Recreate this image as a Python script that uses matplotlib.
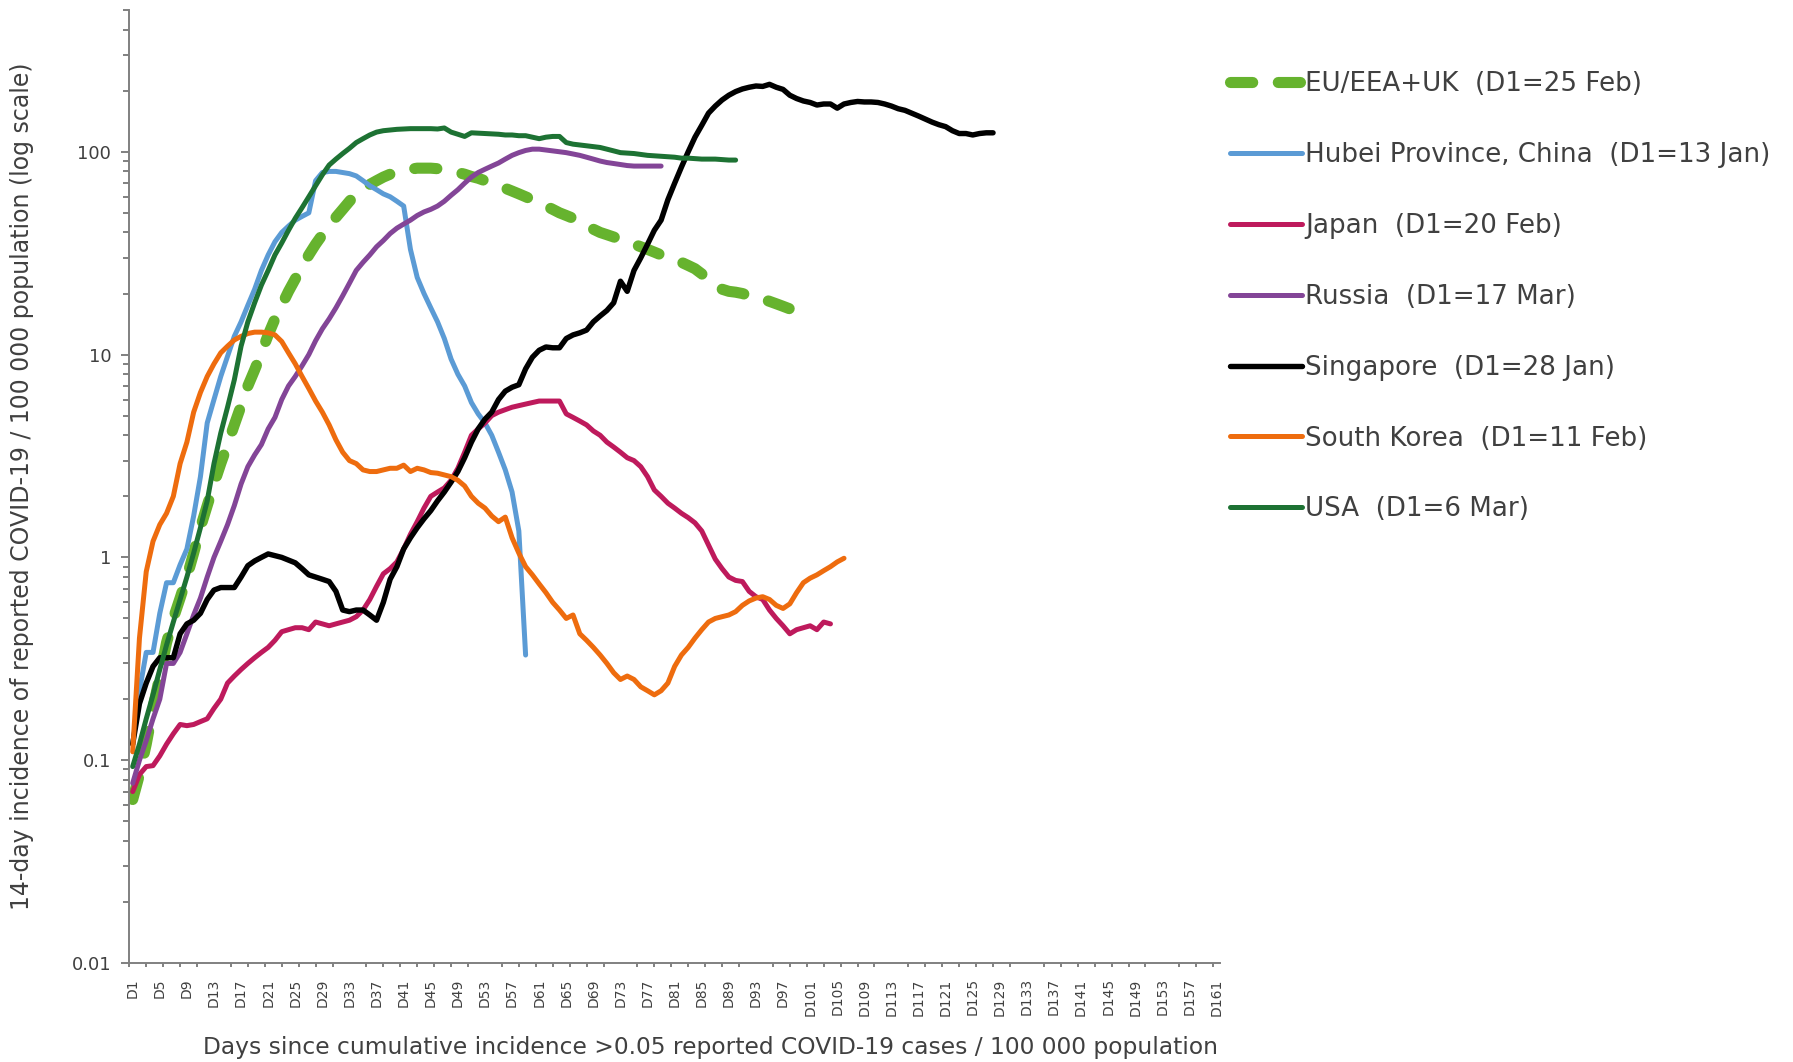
import numpy as np
import matplotlib
matplotlib.use("Agg")
import matplotlib.pyplot as plt
from matplotlib.ticker import FixedLocator, LogLocator, NullFormatter, FuncFormatter

plt.rcParams["font.family"] = ["DejaVu Sans"]

W, H, DPI = 1793, 1062, 100
TXT = "#404040"
AXC = "#808080"

# 14-day incidence per 100 000, one value per day starting at D1
eu_vals = [0.064, 0.085, 0.12, 0.18, 0.26, 0.38, 0.5, 0.63, 0.8, 1.05,
           1.4, 1.8, 2.3, 2.9, 3.6, 4.5, 5.6, 7.0, 8.4, 10.2,
           12.5, 15, 17.5, 20.5, 23.6, 27, 31, 35, 39, 43,
           47.5, 52, 57, 62, 66, 69, 72, 75, 77.5, 79.5,
           81, 82, 83, 83, 83, 82.5, 82, 80.5, 79, 77.5,
           75.5, 74, 72, 70, 68, 66, 64, 62, 60, 58,
           56, 54, 52, 50, 48.5, 47, 45, 43, 41.5, 40,
           39, 38, 37, 36, 35, 34, 33, 32, 31, 30,
           29, 28.5, 27.5, 26.5, 25, 23, 22, 21, 20.5, 20.3,
           20, 19.5, 19, 18.8, 18.3, 17.8, 17.3, 16.8, 16.3, 17]
hubei_vals = [0.12, 0.22, 0.34, 0.34, 0.53, 0.75, 0.75, 0.92, 1.1, 1.6,
              2.5, 4.6, 6.0, 7.8, 9.8, 12.3, 14.5, 17.5, 21, 26,
              31, 36, 40, 43, 46, 48, 50, 72, 79, 80,
              80, 79, 78, 76, 72, 68, 65, 62, 60, 57,
              54, 33, 24, 20, 17, 14.5, 12, 9.5, 8, 7,
              5.8, 5.1, 4.6, 4.0, 3.3, 2.7, 2.1, 1.35, 0.33]
japan_vals = [0.07, 0.085, 0.093, 0.094, 0.105, 0.12, 0.135, 0.15, 0.148, 0.15,
              0.155, 0.16, 0.18, 0.2, 0.24, 0.26, 0.28, 0.3, 0.32, 0.34,
              0.36, 0.39, 0.43, 0.44, 0.45, 0.45, 0.44, 0.48, 0.47, 0.46,
              0.47, 0.48, 0.49, 0.51, 0.55, 0.62, 0.72, 0.83, 0.88, 0.95,
              1.1, 1.3, 1.5, 1.75, 2.0, 2.1, 2.2, 2.4, 2.75, 3.3,
              4.0, 4.3, 4.6, 5.0, 5.2, 5.35, 5.5, 5.6, 5.7, 5.8,
              5.9, 5.9, 5.9, 5.9, 5.1, 4.9, 4.7, 4.5, 4.2, 4.0,
              3.7, 3.5, 3.3, 3.1, 3.0, 2.8, 2.5, 2.15, 2.0, 1.85,
              1.75, 1.65, 1.57, 1.48, 1.35, 1.15, 0.98, 0.88, 0.8, 0.77,
              0.76, 0.68, 0.64, 0.62, 0.55, 0.5, 0.46, 0.42, 0.44, 0.45,
              0.46, 0.44, 0.48, 0.47]
russia_vals = [0.077, 0.1, 0.125, 0.16, 0.2, 0.3, 0.3, 0.34, 0.42, 0.52,
               0.63, 0.8, 1.0, 1.2, 1.45, 1.8, 2.3, 2.8, 3.2, 3.6,
               4.3, 4.9, 6.0, 7.0, 7.8, 8.8, 10, 11.7, 13.4, 15,
               17, 19.5, 22.5, 26, 28.5, 31, 34, 36.5, 39.5, 42,
               44, 46, 48.5, 50.5, 52, 54, 57, 61, 65, 70,
               75, 79, 82, 85, 88, 92, 96, 99, 101.5, 103,
               103, 102, 101, 100, 99, 97.5, 96, 94, 92, 90,
               88.5, 87.5, 86.5, 85.5, 85, 85, 85, 85, 85]
singapore_vals = [0.12, 0.19, 0.24, 0.29, 0.32, 0.32, 0.32, 0.42, 0.47, 0.49,
                  0.53, 0.62, 0.69, 0.71, 0.71, 0.71, 0.8, 0.91, 0.96, 1.0,
                  1.04, 1.02, 1.0, 0.97, 0.94, 0.88, 0.82, 0.8, 0.78, 0.76,
                  0.68, 0.55, 0.54, 0.55, 0.55, 0.52, 0.49, 0.6, 0.78, 0.9,
                  1.1, 1.25, 1.4, 1.55, 1.7, 1.9, 2.1, 2.35, 2.65, 3.1,
                  3.7, 4.3, 4.8, 5.2, 6.0, 6.6, 6.9, 7.1, 8.5, 9.7,
                  10.5, 10.9, 10.8, 10.8, 12, 12.5, 12.8, 13.2, 14.5, 15.5,
                  16.5, 18, 23, 20.5, 26, 30, 35, 41, 46, 58,
                  70, 84, 100, 118, 135, 155, 168, 180, 190, 198,
                  204, 208, 211, 210, 215, 208, 203, 190, 183, 178,
                  175, 170, 172, 172, 164, 172, 175, 177, 176, 176,
                  175, 172, 168, 163, 160, 155, 150, 145, 140, 136,
                  133, 127, 123, 123, 121, 123, 124, 124]
korea_vals = [0.11, 0.4, 0.85, 1.2, 1.45, 1.65, 2.0, 2.9, 3.7, 5.2,
              6.5, 7.8, 9.0, 10.2, 11.0, 11.8, 12.3, 12.7, 12.9, 12.9,
              12.8, 12.5, 11.6, 10.2, 9.0, 7.8, 6.8, 5.9, 5.2, 4.5,
              3.8, 3.3, 3.0, 2.9, 2.7, 2.65, 2.65, 2.7, 2.75, 2.75,
              2.85, 2.65, 2.75, 2.7, 2.62, 2.6, 2.55, 2.5, 2.4, 2.25,
              2.0, 1.85, 1.75, 1.6, 1.5, 1.58, 1.25, 1.05, 0.9, 0.82,
              0.74, 0.67, 0.6, 0.55, 0.5, 0.52, 0.42, 0.39, 0.36, 0.33,
              0.3, 0.27, 0.25, 0.26, 0.25, 0.23, 0.22, 0.21, 0.22, 0.24,
              0.29, 0.33, 0.36, 0.4, 0.44, 0.48, 0.5, 0.51, 0.52, 0.54,
              0.58, 0.61, 0.63, 0.64, 0.62, 0.58, 0.56, 0.59, 0.67, 0.75,
              0.79, 0.82, 0.86, 0.9, 0.95, 0.99]
usa_vals = [0.093, 0.12, 0.16, 0.21, 0.28, 0.37, 0.48, 0.62, 0.8, 1.05,
            1.4, 1.9, 2.9, 4.1, 5.5, 7.5, 11, 14.5, 18, 22,
            26, 31, 35.5, 41, 47, 53, 60, 68, 77, 86,
            92, 98, 104, 111, 116, 121, 125, 127, 128, 129,
            129.5, 130, 130, 130, 130, 129.5, 131, 125, 122, 119,
            124, 123.5, 123, 122.5, 122, 121, 121, 120, 120, 118,
            116, 118, 119, 119, 111, 109, 108, 107, 106, 105,
            103, 101, 99, 98.5, 98, 97, 96, 95.5, 95, 94.5,
            94, 93, 93, 92.5, 92, 92, 92, 91.5, 91, 91]

series = [
    ("EU/EEA+UK  (D1=25 Feb)", eu_vals, "#66B32E"),
    ("Hubei Province, China  (D1=13 Jan)", hubei_vals, "#5B9BD5"),
    ("Japan  (D1=20 Feb)", japan_vals, "#BE1A5C"),
    ("Russia  (D1=17 Mar)", russia_vals, "#834597"),
    ("Singapore  (D1=28 Jan)", singapore_vals, "#000000"),
    ("South Korea  (D1=11 Feb)", korea_vals, "#EE6C0E"),
    ("USA  (D1=6 Mar)", usa_vals, "#1D7233"),
]

n_days = 161
day_labels = [f"D{d}" for d in range(1, n_days + 1, 4)]

fig = plt.figure(figsize=(W / DPI, H / DPI), dpi=DPI)
ax = fig.add_axes([129.3 / W, 1 - 963 / H, (1220 - 129.3) / W, (963 - 10) / H])

for i, (name, vals, col) in enumerate(series):
    days = np.arange(1, len(vals) + 1)
    if i == 0:
        ax.plot(days, vals, color=col, lw=8, ls=(0, (2.0, 2.3)),
                dash_capstyle="round", solid_joinstyle="round", label=name)
    else:
        ax.plot(days, vals, color=col, lw=3.6 if col != "#000000" else 3.9,
                solid_capstyle="round", solid_joinstyle="round", label=name)

ax.set_yscale("log")
ax.set_ylim(0.01, 500)
ax.set_xlim(0.5, 161.5)

for s in ("top", "right"):
    ax.spines[s].set_visible(False)
for s in ("left", "bottom"):
    ax.spines[s].set_color(AXC)
    ax.spines[s].set_linewidth(1.4)

ax.yaxis.set_major_locator(FixedLocator([0.01, 0.1, 1, 10, 100]))
ax.yaxis.set_major_formatter(FuncFormatter(lambda v, p: f"{v:g}"))
ax.yaxis.set_minor_locator(LogLocator(base=10, subs=np.arange(2, 10)))
ax.yaxis.set_minor_formatter(NullFormatter())
ax.tick_params(axis="y", which="major", length=6, width=1.4, color=AXC,
               labelsize=13, labelcolor=TXT, pad=7)
ax.tick_params(axis="y", which="minor", length=4.5, width=1.4, color=AXC)

ax.set_xticks(np.arange(1, n_days + 1, 4))
ax.set_xticklabels(day_labels, rotation=90)
ax.set_xticks(np.arange(0.5, n_days, 2.5), minor=True)
ax.tick_params(axis="x", which="major", length=0, labelsize=10, labelcolor=TXT, pad=11)
ax.tick_params(axis="x", which="minor", length=3, width=1.4, color=AXC)

ax_h = 963 - 10
ax_w = 1220 - 129.3
ax.set_ylabel("14-day incidence of reported COVID-19 / 100 000 population (log scale)",
              fontsize=17, color=TXT)
ax.yaxis.set_label_coords(-(129.3 - 34) / ax_w, 0.5)
ax.set_xlabel("Days since cumulative incidence >0.05 reported COVID-19 cases / 100 000 population",
              fontsize=16.8, color=TXT)
ax.xaxis.set_label_coords(0.5325, -(1036 - 963) / ax_h)

fig.legend(loc="upper left", bbox_to_anchor=(1230 / W, 1 - 71 / H), frameon=False,
           fontsize=18.8, handlelength=2.75, handletextpad=0.12, labelspacing=1.72,
           borderpad=0, borderaxespad=0, labelcolor=TXT)

fig.savefig("out.png", dpi=DPI)
